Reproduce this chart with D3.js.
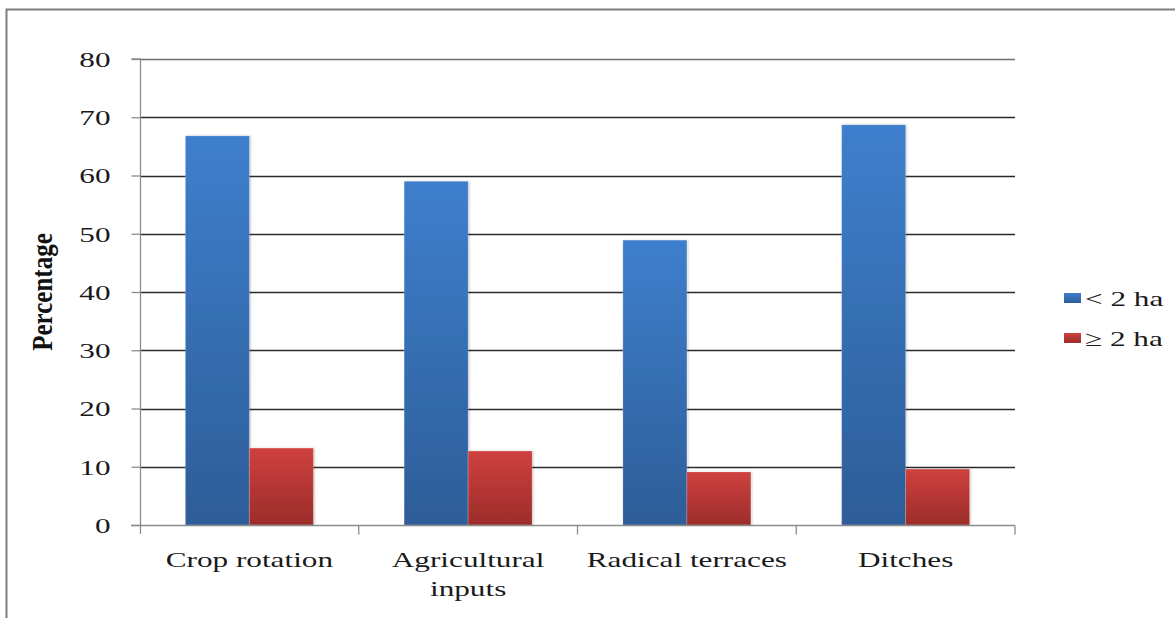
<!DOCTYPE html>
<html>
<head>
<meta charset="utf-8">
<script src="https://cdn.jsdelivr.net/npm/d3@7"></script>
<style>
  body { margin: 0; background: white; }
  svg { display: block; }
</style>
</head>
<body>
<div id="chart"></div>
<script>
const categories = ["Crop rotation", "Agricultural inputs", "Radical terraces", "Ditches"];
const seriesNames = ["< 2 ha", "\u2265 2 ha"];
const smallFarms = [66.8, 59.0, 48.9, 68.7];
const largeFarms = [13.2, 12.7, 9.1, 9.6];
const yTicks = [0, 10, 20, 30, 40, 50, 60, 70, 80];

const width = 1175;
const height = 618;
const margin = { top: 59, right: 160, bottom: 93, left: 140 };
const sx = 1.42; // text in the source is stretched sideways
const serif = "'Liberation Serif', 'DejaVu Serif', serif";

const rows = categories.map((c, i) => ({ cat: c, vals: [smallFarms[i], largeFarms[i]] }));

const svg = d3.select("#chart").append("svg")
  .attr("width", width)
  .attr("height", height);

const defs = svg.append("defs");
const grads = [
  { id: "gBlue", top: "#3e7fcd", bottom: "#2d5d98" },
  { id: "gRed", top: "#cf413e", bottom: "#9c2c2a" }
];
grads.forEach(g => {
  const lg = defs.append("linearGradient").attr("id", g.id)
    .attr("x1", 0).attr("y1", 0).attr("x2", 0).attr("y2", 1);
  lg.append("stop").attr("offset", "0%").attr("stop-color", g.top);
  lg.append("stop").attr("offset", "100%").attr("stop-color", g.bottom);
});
defs.append("filter").attr("id", "shadow")
  .attr("x", "-10%").attr("y", "-10%").attr("width", "130%").attr("height", "130%")
  .append("feDropShadow")
  .attr("dx", 1).attr("dy", 0).attr("stdDeviation", 1.2)
  .attr("flood-color", "#000").attr("flood-opacity", 0.25);

// outer frame
svg.append("rect")
  .attr("x", 6.5).attr("y", 9.5)
  .attr("width", width).attr("height", height)
  .attr("fill", "none")
  .attr("stroke", "#7f7f7f")
  .attr("stroke-width", 2);

const x0 = d3.scaleBand()
  .domain(categories)
  .range([margin.left, width - margin.right]);

const inner = d3.scaleBand()
  .domain([0, 1])
  .range([0, x0.bandwidth()])
  .paddingInner(0)
  .paddingOuter(0.71);

const y = d3.scaleLinear().domain([0, 80]).range([height - margin.bottom, margin.top]);

// gridlines
svg.append("g")
  .selectAll("line")
  .data(yTicks.filter(d => d > 0))
  .join("line")
  .attr("x1", margin.left).attr("x2", width - margin.right)
  .attr("y1", d => Math.round(y(d)) + 0.5).attr("y2", d => Math.round(y(d)) + 0.5)
  .attr("stroke", d => d === 80 ? "#6f6f6f" : "#2a2a2a")
  .attr("stroke-width", 1.3);

// bars
const groups = svg.append("g")
  .selectAll("g")
  .data(rows)
  .join("g")
  .attr("transform", d => `translate(${x0(d.cat)},0)`);

groups.selectAll("rect")
  .data(d => d.vals.map((v, i) => ({ v, i })))
  .join("rect")
  .attr("x", d => inner(d.i))
  .attr("width", inner.bandwidth())
  .attr("y", d => y(d.v))
  .attr("height", d => y(0) - y(d.v))
  .attr("fill", d => d.i === 0 ? "url(#gBlue)" : "url(#gRed)")
  .attr("stroke", "rgba(255,255,255,0.18)")
  .attr("stroke-width", 1)
  .attr("filter", "url(#shadow)");

// y axis
const yAxis = svg.append("g")
  .attr("transform", `translate(${margin.left + 0.5},0)`)
  .call(d3.axisLeft(y).tickValues(yTicks).tickSize(9));
yAxis.select(".domain").attr("stroke", "#8c8c8c").attr("stroke-width", 1.3)
  .attr("d", `M-9,${y(80)}H0V${y(0) + 9}`);
yAxis.selectAll(".tick line").attr("stroke", "#8c8c8c").attr("stroke-width", 1.3);
yAxis.selectAll(".tick text")
  .attr("x", -30 / sx)
  .attr("dy", "0.34em")
  .attr("transform", `scale(${sx},1)`)
  .attr("font-family", serif)
  .attr("font-size", 22)
  .attr("fill", "#1a1a1a");

// x axis
const xAxis = svg.append("g")
  .attr("transform", `translate(0,${y(0) + 0.5})`);
xAxis.append("line")
  .attr("x1", margin.left - 9).attr("x2", width - margin.right)
  .attr("stroke", "#8c8c8c").attr("stroke-width", 1.3);
xAxis.selectAll(".sep")
  .data(categories.map(c => x0(c) + x0.bandwidth()))
  .join("line")
  .attr("class", "sep")
  .attr("x1", d => d).attr("x2", d => d)
  .attr("y1", 0).attr("y2", 9)
  .attr("stroke", "#8c8c8c").attr("stroke-width", 1.3);

const labelLines = {
  "Crop rotation": ["Crop rotation"],
  "Agricultural inputs": ["Agricultural", "inputs"],
  "Radical terraces": ["Radical terraces"],
  "Ditches": ["Ditches"]
};
xAxis.selectAll(".lbl")
  .data(categories)
  .join("text")
  .attr("class", "lbl")
  .attr("transform", `scale(${sx},1)`)
  .attr("y", 42)
  .attr("text-anchor", "middle")
  .attr("font-family", serif)
  .attr("font-size", 22)
  .attr("fill", "#1a1a1a")
  .each(function(d) {
    const cx = (x0(d) + x0.bandwidth() / 2) / sx;
    d3.select(this).selectAll("tspan")
      .data(labelLines[d])
      .join("tspan")
      .attr("x", cx)
      .attr("dy", (t, i) => i === 0 ? 0 : 29)
      .text(t => t);
  });

// y title
svg.append("text")
  .attr("transform", `translate(52,${(y(0) + y(80)) / 2}) scale(1.22,1) rotate(-90)`)
  .attr("text-anchor", "middle")
  .attr("font-family", serif)
  .attr("font-size", 25)
  .attr("font-weight", "bold")
  .attr("fill", "#111")
  .text("Percentage");

// legend
const legend = svg.append("g").attr("transform", "translate(1064,293)");
const legItems = legend.selectAll("g")
  .data(seriesNames)
  .join("g")
  .attr("transform", (d, i) => `translate(0,${i * 40})`);
legItems.append("rect")
  .attr("width", 17).attr("height", 10)
  .attr("fill", (d, i) => i === 0 ? "url(#gBlue)" : "url(#gRed)");
legItems.append("text")
  .attr("x", 21 / sx).attr("y", 13)
  .attr("transform", `scale(${sx},1)`)
  .attr("font-family", serif)
  .attr("font-size", 22)
  .attr("fill", "#1a1a1a")
  .text(d => d);
</script>
</body>
</html>
